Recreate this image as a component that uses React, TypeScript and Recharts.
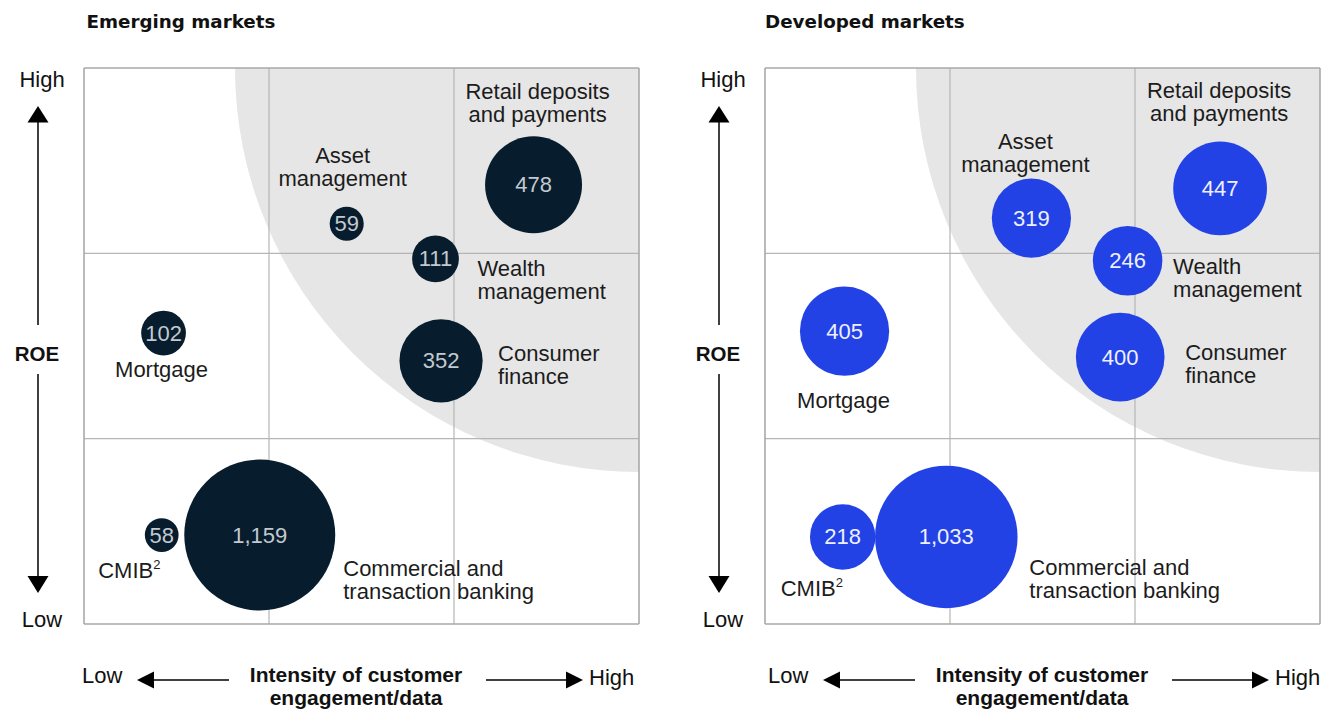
import React from 'react';
import { ScatterChart, Scatter, XAxis, YAxis, ZAxis, ReferenceLine, ReferenceDot } from 'recharts';

// ---------- data ----------
const categories = [
  'Retail deposits and payments',
  'Asset management',
  'Wealth management',
  'Mortgage',
  'Consumer finance',
  'CMIB',
  'Commercial and transaction banking',
];
const categoryLines: string[][] = [
  ['Retail deposits', 'and payments'],
  ['Asset', 'management'],
  ['Wealth', 'management'],
  ['Mortgage'],
  ['Consumer', 'finance'],
  ['CMIB'],
  ['Commercial and', 'transaction banking'],
];
const footnotes = ['', '', '', '', '', '2', ''];

// position on qualitative 0–3 scales (x: intensity of customer engagement/data, y: ROE)
const emergingEngagement = [2.43, 1.42, 1.90, 0.43, 1.93, 0.42, 0.95];
const emergingRoe = [2.37, 2.16, 1.97, 1.57, 1.42, 0.48, 0.48];
const emergingRevenue = [478, 59, 111, 102, 352, 58, 1159];

const developedEngagement = [2.46, 1.44, 1.96, 0.43, 1.92, 0.42, 0.98];
const developedRoe = [2.35, 2.19, 1.96, 1.58, 1.44, 0.47, 0.47];
const developedRevenue = [447, 319, 246, 405, 400, 218, 1033];

const gridTicks = [1, 2];
const axisMax = 3;
const panelTitles = ['Emerging markets', 'Developed markets'];

// ---------- styles ----------
const REG = '"Liberation Sans", Arial, sans-serif';
const BOLD_TITLE = '"DejaVu Sans", sans-serif';
const GRID = '#b5b5b5';

type Placement = { dx: number; dy: number; anchor: 'start' | 'middle' | 'end' };

const emergingPlacement: Placement[] = [
  { dx: 4, dy: -86, anchor: 'middle' },
  { dx: -4, dy: -61, anchor: 'middle' },
  { dx: 42, dy: 17.5, anchor: 'start' },
  { dx: -2, dy: 44, anchor: 'middle' },
  { dx: 57, dy: 0.5, anchor: 'start' },
  { dx: -63.5, dy: 43, anchor: 'start' },
  { dx: 83.5, dy: 40.5, anchor: 'start' },
];
const developedPlacement: Placement[] = [
  { dx: -1, dy: -90.5, anchor: 'middle' },
  { dx: -6, dy: -69, anchor: 'middle' },
  { dx: 45.5, dy: 13, anchor: 'start' },
  { dx: -1, dy: 76.5, anchor: 'middle' },
  { dx: 65, dy: 3, anchor: 'start' },
  { dx: -62, dy: 59.5, anchor: 'start' },
  { dx: 83, dy: 38.5, anchor: 'start' },
];

type Panel = {
  color: string;
  numberColor: string;
  placement: Placement[];
};

const emergingPanel: Panel = { color: '#071d2d', numberColor: '#c3c9cf', placement: emergingPlacement };
const developedPanel: Panel = { color: '#2242e6', numberColor: '#eef0ff', placement: developedPlacement };

const buildRows = (xs: number[], ys: number[], vs: number[]) =>
  categories.map((c, i) => ({
    index: i,
    name: c,
    x: xs[i],
    y: ys[i],
    value: vs[i],
    label: vs[i].toLocaleString('en-US'),
  }));

const emergingRows = buildRows(emergingEngagement, emergingRoe, emergingRevenue);
const developedRows = buildRows(developedEngagement, developedRoe, developedRevenue);

const makeBubble = (panel: Panel) => (p: any) => {
  const cx: number = p.cx;
  const cy: number = p.cy;
  const r: number = typeof p.size === 'number' ? Math.sqrt(p.size / Math.PI) : p.width / 2;
  const i: number = p.payload.index;
  const pl = panel.placement[i];
  const lines = categoryLines[i];
  const fn = footnotes[i];
  const tx = cx + pl.dx;
  return (
    <g>
      <circle cx={cx} cy={cy} r={r} fill={panel.color} />
      <text
        x={cx}
        y={cy + 7.5}
        textAnchor="middle"
        fontFamily={REG}
        fontSize={22}
        fill={panel.numberColor}
      >
        {p.payload.label}
      </text>
      <text x={tx} y={cy + pl.dy} textAnchor={pl.anchor} fontFamily={REG} fontSize={22} fill="#1c1c1c">
        {lines.map((ln, k) => (
          <tspan key={k} x={tx} dy={k === 0 ? 0 : 23}>
            {ln}
          </tspan>
        ))}
        {fn ? (
          <tspan dy={-9} fontSize={13}>
            {fn}
          </tspan>
        ) : null}
      </text>
    </g>
  );
};

function PanelChart({ rows, panel, margin }: { rows: any[]; panel: Panel; margin: any }) {
  return (
    <ScatterChart width={665} height={709} margin={margin}>
      <XAxis type="number" dataKey="x" domain={[0, axisMax]} hide />
      <YAxis type="number" dataKey="y" domain={[0, axisMax]} hide />
      <ZAxis type="number" dataKey="value" domain={[0, 1200]} range={[0, 18535]} />
      <ReferenceDot
        x={axisMax}
        y={axisMax}
        r={404}
        fill="#e6e6e6"
        stroke="none"
        ifOverflow="hidden"
        zIndex={-300}
      />
      {gridTicks.map((t) => (
        <ReferenceLine key={'vx' + t} x={t} stroke={GRID} strokeWidth={1.2} zIndex={-200} />
      ))}
      {gridTicks.map((t) => (
        <ReferenceLine key={'hy' + t} y={t} stroke={GRID} strokeWidth={1.2} zIndex={-200} />
      ))}
      <ReferenceLine x={0} stroke="#a9a9a9" strokeWidth={1.6} zIndex={-200} />
      <ReferenceLine x={axisMax} stroke="#a9a9a9" strokeWidth={1.6} zIndex={-200} />
      <ReferenceLine y={0} stroke="#a9a9a9" strokeWidth={1.6} zIndex={-200} />
      <ReferenceLine y={axisMax} stroke="#a9a9a9" strokeWidth={1.6} zIndex={-200} />
      <Scatter data={rows} shape={makeBubble(panel)} isAnimationActive={false} />
    </ScatterChart>
  );
}

function Decorations({ title, titleX, vx, bx }: { title: string; titleX: number; vx: number; bx: number }) {
  const lw = 1.5;
  return (
    <g>
      <text x={titleX} y={28.3} fontFamily={BOLD_TITLE} fontWeight={700} fontSize={18.3} fill="#111">
        {title}
      </text>
      {/* vertical axis */}
      <text x={vx + 4} y={87} textAnchor="middle" fontFamily={REG} fontSize={22} fill="#111">
        High
      </text>
      <polygon points={`${vx},106 ${vx - 10.5},122.5 ${vx + 10.5},122.5`} fill="#000" />
      <line x1={vx} y1={122} x2={vx} y2={325} stroke="#000" strokeWidth={lw} />
      <text x={vx - 1} y={360.7} textAnchor="middle" fontFamily={REG} fontWeight={700} fontSize={20.5} fill="#111">
        ROE
      </text>
      <line x1={vx} y1={374} x2={vx} y2={577} stroke="#000" strokeWidth={lw} />
      <polygon points={`${vx - 10.5},576 ${vx + 10.5},576 ${vx},593`} fill="#000" />
      <text x={vx + 4} y={626.5} textAnchor="middle" fontFamily={REG} fontSize={22} fill="#111">
        Low
      </text>
      {/* horizontal axis */}
      <text x={82 + bx} y={683} fontFamily={REG} fontSize={22} fill="#111">
        Low
      </text>
      <polygon points={`${137 + bx},680 ${154 + bx},671.5 ${154 + bx},688.5`} fill="#000" />
      <line x1={153 + bx} y1={680} x2={229 + bx} y2={680} stroke="#000" strokeWidth={lw} />
      <text x={356 + bx} y={682} textAnchor="middle" fontFamily={REG} fontWeight={700} fontSize={21} fill="#111">
        Intensity of customer
      </text>
      <text x={356 + bx} y={704.5} textAnchor="middle" fontFamily={REG} fontWeight={700} fontSize={21} fill="#111">
        engagement/data
      </text>
      <line x1={486 + bx} y1={680} x2={567 + bx} y2={680} stroke="#000" strokeWidth={lw} />
      <polygon points={`${583 + bx},680 ${566 + bx},671.5 ${566 + bx},688.5`} fill="#000" />
      <text x={589 + bx} y={685} fontFamily={REG} fontSize={22} fill="#111">
        High
      </text>
    </g>
  );
}

export default function App() {
  return (
    <div
      style={{
        position: 'absolute',
        left: 0,
        top: 0,
        width: 1330,
        height: 709,
        background: '#ffffff',
        overflow: 'hidden',
      }}
    >
      <div style={{ position: 'absolute', left: 0, top: 0 }}>
        <PanelChart rows={emergingRows} panel={emergingPanel} margin={{ top: 68, right: 26, bottom: 85, left: 84 }} />
      </div>
      <div style={{ position: 'absolute', left: 665, top: 0 }}>
        <PanelChart rows={developedRows} panel={developedPanel} margin={{ top: 68, right: 10, bottom: 85, left: 100 }} />
      </div>
      <svg
        width={1330}
        height={709}
        style={{ position: 'absolute', left: 0, top: 0, pointerEvents: 'none' }}
      >
        <Decorations title={panelTitles[0]} titleX={86.5} vx={38} bx={0} />
        <Decorations title={panelTitles[1]} titleX={765} vx={719} bx={686} />
      </svg>
    </div>
  );
}
